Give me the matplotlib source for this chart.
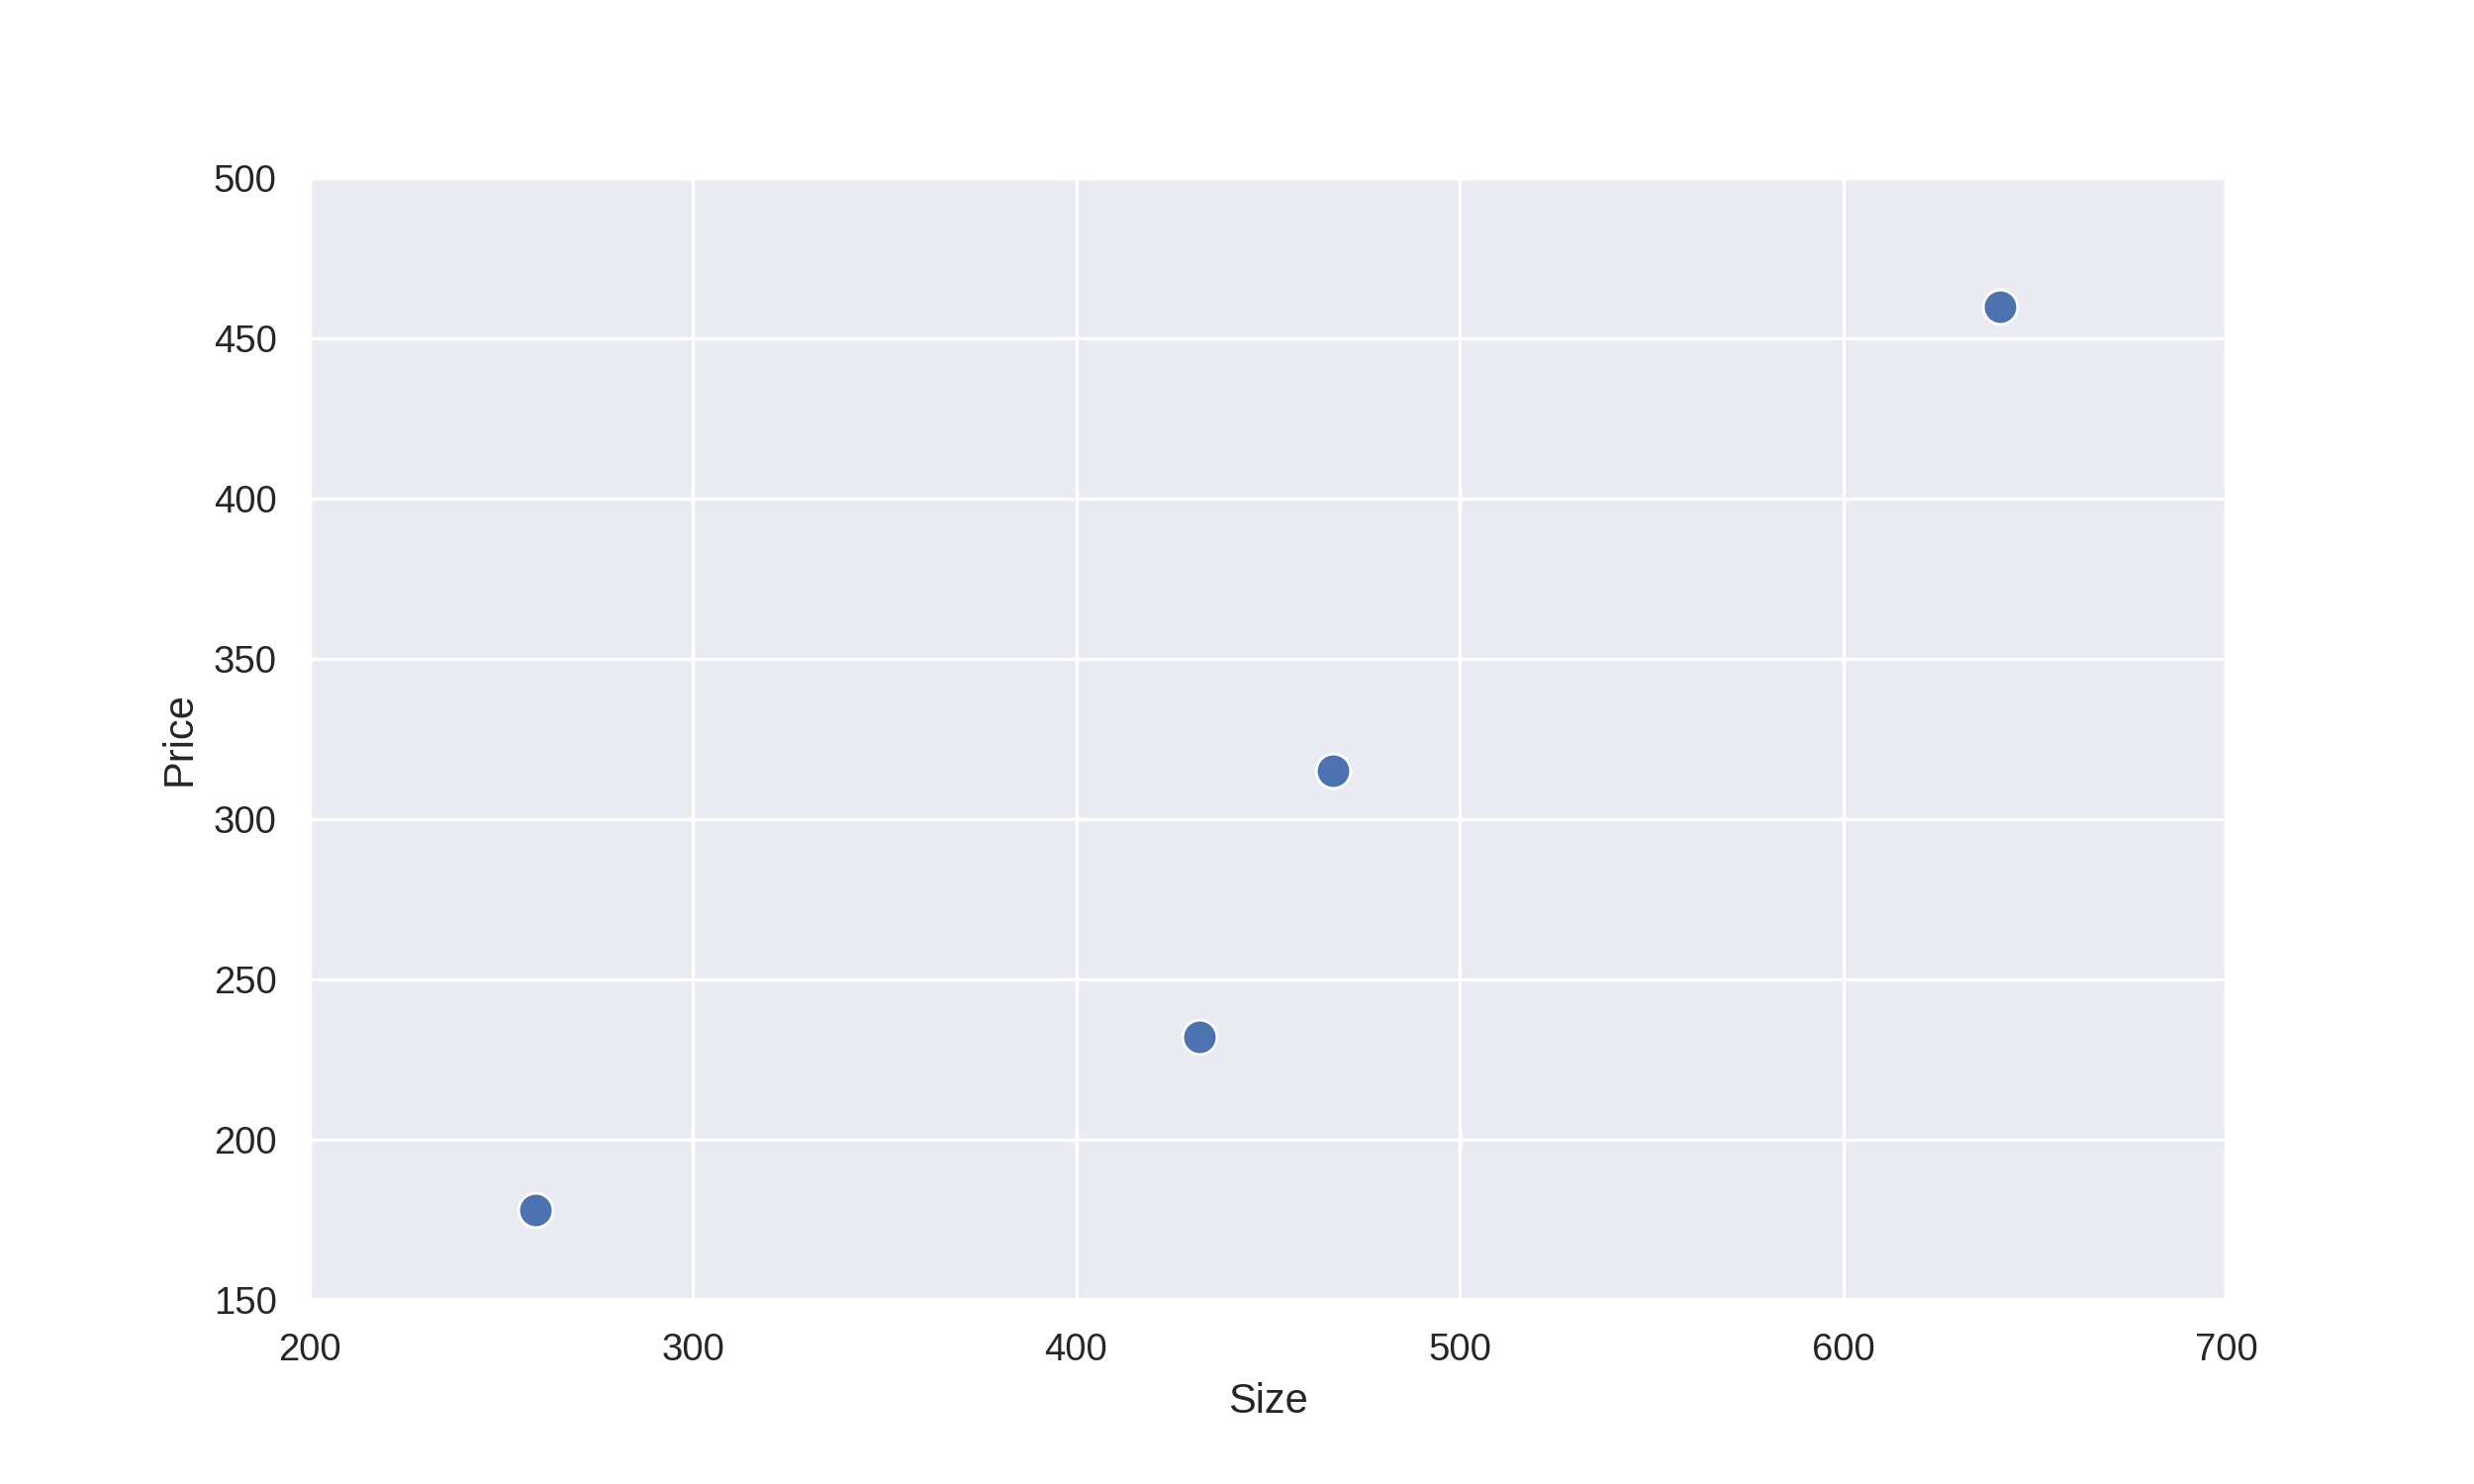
import matplotlib
matplotlib.use("Agg")
import matplotlib.pyplot as plt
import seaborn as sns
import pandas as pd

# house data
size = [259, 432, 467, 641]
price = [178, 232, 315, 460]

sns.set_theme(style="darkgrid")
plt.rcParams['font.family'] = ['Liberation Sans', 'DejaVu Sans']

df = pd.DataFrame({"Size": size, "Price": price})

fig, ax = plt.subplots(figsize=(10, 6), dpi=250)
fig.subplots_adjust(left=0.125, right=0.9, bottom=0.124, top=0.88)
sns.scatterplot(data=df, x="Size", y="Price", s=100, ax=ax)
ax.set_xlim(200, 700)
ax.set_ylim(150, 500)
fig.savefig("out.png")
